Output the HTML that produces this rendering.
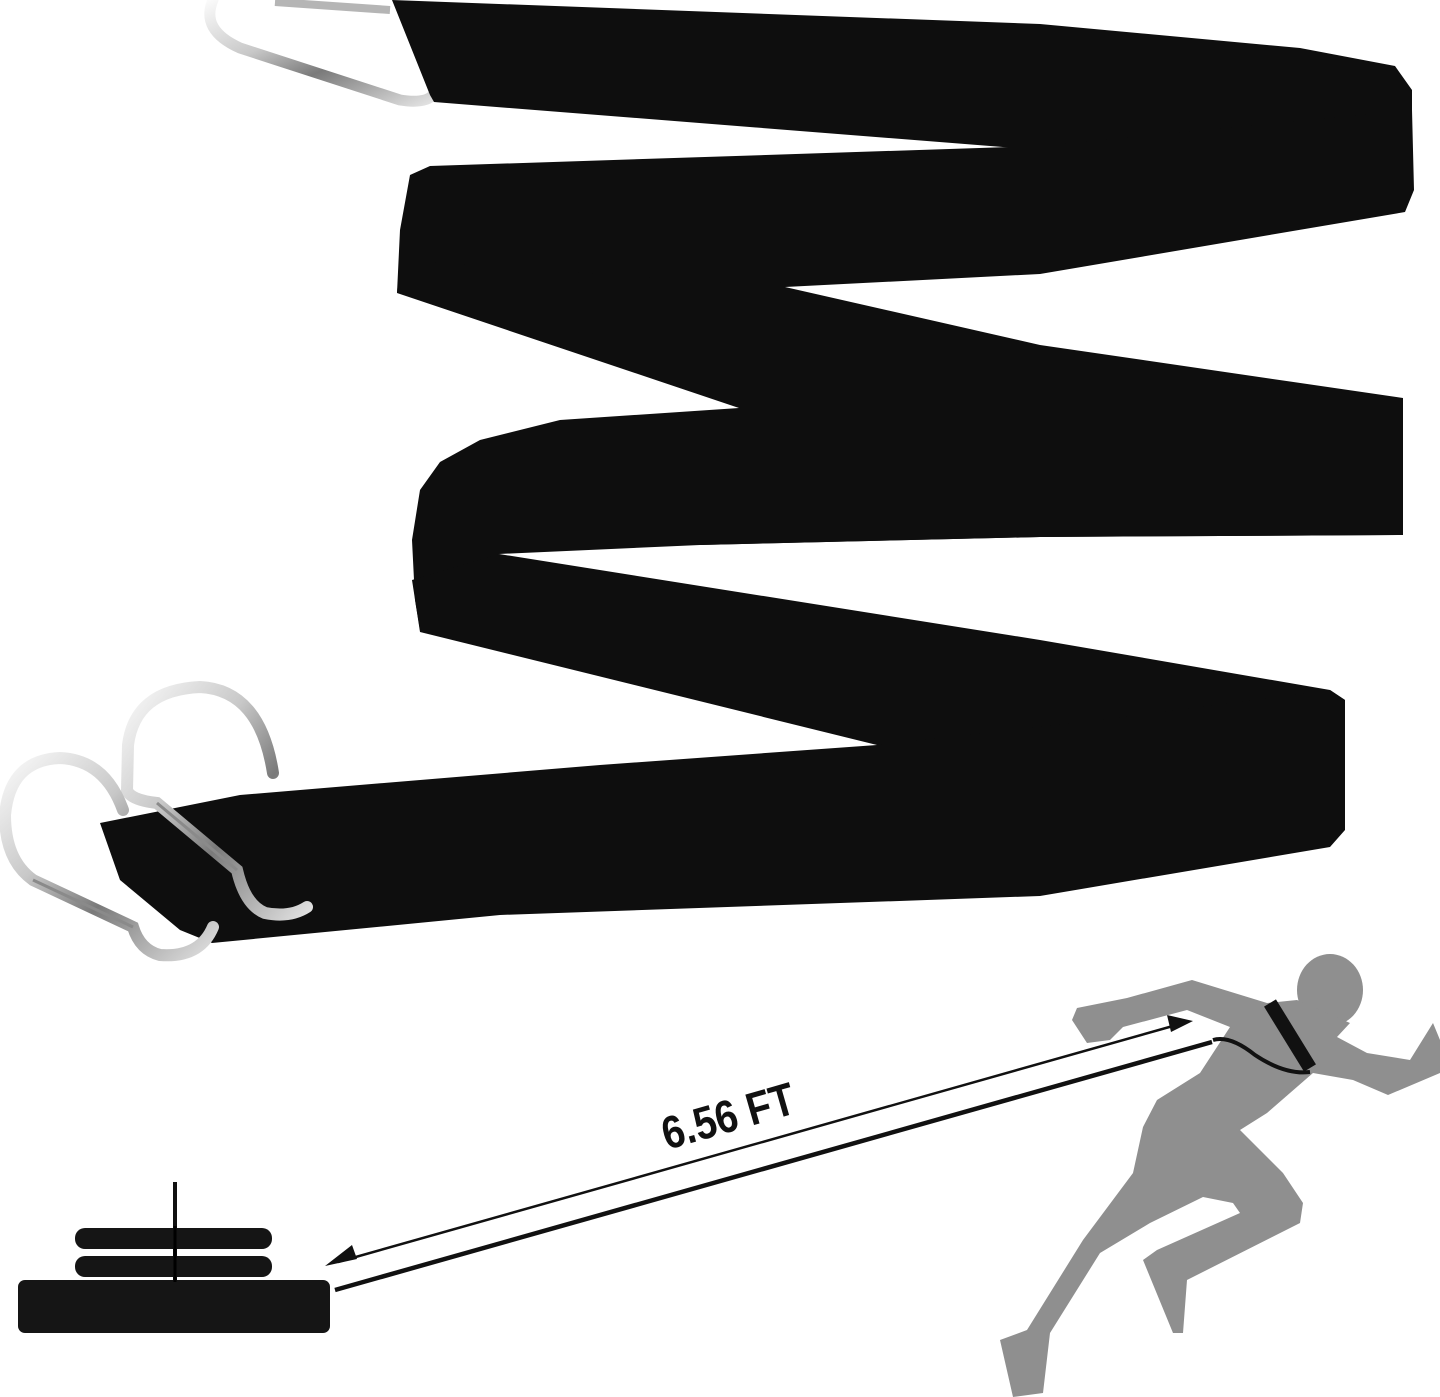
<!DOCTYPE html>
<html><head><meta charset="utf-8"><style>
html,body{margin:0;padding:0;background:#fff;width:1440px;height:1397px;overflow:hidden}
svg{display:block}
</style></head><body>
<svg width="1440" height="1397" viewBox="0 0 1440 1397" xmlns="http://www.w3.org/2000/svg">
<defs>
<linearGradient id="met" x1="0" y1="0" x2="1" y2="1">
<stop offset="0" stop-color="#fafafa"/><stop offset="0.35" stop-color="#c8c8c8"/><stop offset="0.6" stop-color="#7a7a7a"/><stop offset="1" stop-color="#e0e0e0"/>
</linearGradient>
</defs>
<!-- top carabiner -->
<path d="M213 0 Q200 30 240 48 L400 100 Q425 104 433 95" fill="none" stroke="url(#met)" stroke-width="11" stroke-linecap="round"/>
<path d="M275 2 L390 10" fill="none" stroke="#b5b5b5" stroke-width="8"/>
<g fill="#0e0e0e">
<polygon points="392,0 1040,24 1300,48 1395,66 1412,90 1412,150 1040,150 434,102 430,95"/>
<polygon points="430,166 1040,146 1412,110 1414,190 1405,212 1040,274 785,287 600,290 397,293 400,230 410,175"/>
<polygon points="400,260 785,287 1040,345 1403,398 1403,535 1040,537 700,545 739,408 397,293"/>
<polygon points="739,408 560,420 480,440 440,462 420,490 412,540 415,600 420,630 499,554 700,545 1040,537 1403,535 1403,420"/>
<polygon points="499,554 1040,640 1330,690 1345,700 1345,830 877,745 420,632 412,580"/>
<polygon points="1330,690 1345,700 1345,830 1330,847 1040,896 500,915 212,943 180,930 120,880 100,823 240,795 600,765 877,745 1100,720"/>
</g>
<!-- lower carabiners -->
<path d="M273 773 Q260 690 200 687 Q135 690 128 745 L127 790 Q130 800 157 803 L237 870 Q245 905 265 913 Q290 918 307 907" fill="none" stroke="url(#met)" stroke-width="12" stroke-linecap="round"/>
<path d="M123 810 Q105 760 60 758 Q10 760 5 815 Q5 860 33 880 L133 927 Q140 950 160 955 Q200 958 213 927" fill="none" stroke="url(#met)" stroke-width="12" stroke-linecap="round"/>
<line x1="33" y1="880" x2="133" y2="927" stroke="#8a8a8a" stroke-width="3"/>
<line x1="157" y1="803" x2="237" y2="870" stroke="#8a8a8a" stroke-width="3"/>
<!-- weights -->
<line x1="175" y1="1182" x2="175" y2="1282" stroke="#111" stroke-width="4"/>
<rect x="75" y="1228" width="197" height="21" rx="10" fill="#151515"/>
<rect x="75" y="1256" width="197" height="21" rx="10" fill="#151515"/>
<rect x="18" y="1280" width="312" height="53" rx="7" fill="#151515"/>
<line x1="175" y1="1226" x2="175" y2="1282" stroke="#000" stroke-width="3"/>
<!-- arrow -->
<line x1="338" y1="1262" x2="1180" y2="1024" stroke="#111" stroke-width="2.5"/>
<polygon points="325,1266 352,1245 357,1259" fill="#111"/>
<polygon points="1193,1021 1167,1015 1171,1032" fill="#111"/>
<line x1="335" y1="1290" x2="1212" y2="1042" stroke="#111" stroke-width="4.5"/>
<text transform="translate(667,1150) rotate(-16) scale(0.86,1)" font-family="Liberation Sans, sans-serif" font-weight="bold" font-size="46" fill="#111">6.56 FT</text>
<!-- runner -->
<g fill="#8f8f8f">
<ellipse cx="1330" cy="990" rx="33" ry="36"/>
<path d="M1072 1020 L1077 1008 L1127 998 L1192 980 L1267 1003 L1297 1000 L1350 1023 L1337 1037 L1367 1053 L1410 1060 L1433 1023 L1440 1040 L1440 1073 L1388 1095 L1353 1080 L1313 1073 L1267 1113 L1240 1130 L1283 1173 L1303 1203 L1300 1223 L1187 1280 L1183 1333 L1173 1333 L1143 1260 L1157 1250 L1240 1213 L1233 1203 L1203 1197 L1150 1223 L1100 1253 L1050 1333 L1043 1393 L1013 1397 L1000 1340 L1027 1330 L1083 1240 L1133 1173 L1143 1127 L1157 1100 L1200 1073 L1230 1027 L1187 1010 L1123 1027 L1110 1040 L1087 1043 Z"/>
</g>
<path d="M1270 1003 L1310 1068" stroke="#111" stroke-width="14" fill="none"/>
<path d="M1213 1040 Q1230 1035 1255 1055 Q1285 1075 1310 1072" stroke="#111" stroke-width="4" fill="none"/>
</svg>
</body></html>
